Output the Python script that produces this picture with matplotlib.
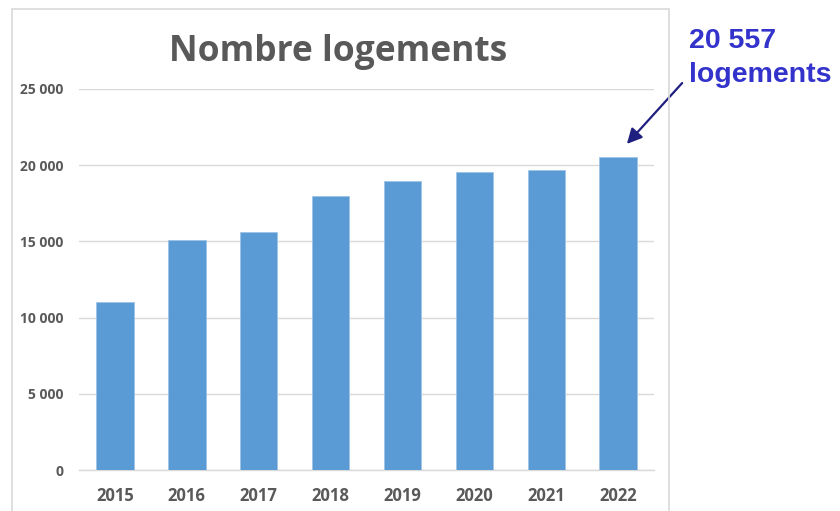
import matplotlib
matplotlib.use("Agg")
import matplotlib.pyplot as plt
from matplotlib.patches import Rectangle

years = ["2015", "2016", "2017", "2018", "2019", "2020", "2021", "2022"]
logements = [11050, 15080, 15600, 18000, 18950, 19550, 19700, 20557]
yticks = [0, 5000, 10000, 15000, 20000, 25000]
ytick_labels = ["0", "5 000", "10 000", "15 000", "20 000", "25 000"]

W, H = 840, 511
fig = plt.figure(figsize=(W / 100, H / 100), dpi=100)
fig.patch.set_facecolor("white")

# chart frame
fig.patches.append(Rectangle((12 / W, -0.05), (669 - 12) / W, (H - 9) / H + 0.05,
                             transform=fig.transFigure, fill=False,
                             edgecolor="#d9d9d9", linewidth=1.2))

ax = fig.add_axes([79 / W, (H - 470) / H, (654 - 79) / W, (470 - 89) / H])
x = range(len(years))
ax.bar(x, logements, width=0.52, color="#5b9bd5", edgecolor="#9dc3e6", linewidth=0.6, zorder=3)
ax.set_xlim(-0.5, len(years) - 0.5)
ax.set_ylim(0, 25000)
ax.set_yticks(yticks)
ax.set_yticklabels(ytick_labels)
ax.set_xticks(list(x))
ax.set_xticklabels(years)
ax.grid(axis="y", color="#d9d9d9", linewidth=1, zorder=0)
for s in ["top", "right", "left"]:
    ax.spines[s].set_visible(False)
ax.spines["bottom"].set_color("#d9d9d9")
ax.spines["bottom"].set_linewidth(1)
ax.tick_params(length=0)
ax.tick_params(axis="y", pad=11)
ax.tick_params(axis="x", pad=12)
for lab in ax.get_yticklabels():
    lab.set_fontfamily("Open Sans")
    lab.set_fontweight("bold")
    lab.set_fontsize(10)
    lab.set_color("#595959")
for lab in ax.get_xticklabels():
    lab.set_fontfamily("Open Sans")
    lab.set_fontweight("bold")
    lab.set_fontsize(12)
    lab.set_color("#595959")

fig.text(338 / W, 1 - 52 / H, "Nombre logements", ha="center", va="center",
         fontsize=25.5, fontweight="bold", color="#595959", family="Open Sans")

ax.annotate("20 557\nlogements", xy=(7, logements[-1]), xycoords="data",
            xytext=(689 / W, 1 - 58 / H), textcoords="figure fraction",
            ha="left", va="center", fontsize=20.5, fontweight="bold",
            color="#3333cc", family="Liberation Sans", linespacing=1.35,
            annotation_clip=False)
ax.annotate("", xy=(625 / W, 1 - 146 / H), xycoords="figure fraction",
            xytext=(684 / W, 1 - 81 / H), textcoords="figure fraction",
            arrowprops=dict(arrowstyle="-|>,head_length=0.9,head_width=0.45",
                            color="#1f1f80", lw=1.6))

fig.savefig("out.png", dpi=100)
